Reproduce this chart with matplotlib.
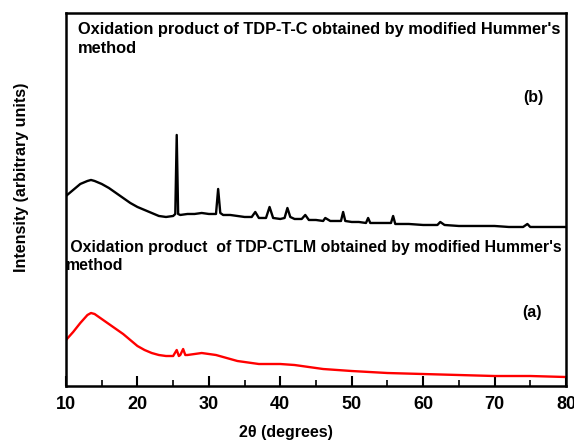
import matplotlib
matplotlib.use("Agg")
import matplotlib.pyplot as plt
from matplotlib.ticker import MultipleLocator

plt.rcParams["font.family"] = ["Liberation Sans", "DejaVu Sans"]
plt.rcParams["font.weight"] = "bold"

# (b) TDP-T-C oxidation product, offset trace
b_theta = [10, 11, 12, 13, 13.5, 14, 15, 16, 17, 18, 19, 20, 21, 22, 23, 24, 25, 25.3, 25.5, 25.7,
           26, 27, 28, 29, 30, 31, 31.3, 31.6, 32, 33, 34, 35, 36, 36.5, 37, 38, 38.5, 39, 40, 40.6,
           41, 41.4, 42, 43, 43.5, 44, 45, 46, 46.3, 47, 48, 48.5, 48.8, 49.1, 50, 51, 52, 52.3, 52.6,
           54, 55.5, 55.8, 56.1, 58, 60, 62, 62.4, 63, 65, 68, 70, 72, 74, 74.6, 75, 77, 80]
b_int = [190, 196, 202, 205, 206, 205, 202, 198, 193, 188, 183, 179, 176, 173, 170, 169, 170, 172, 251, 172,
         171, 172, 172, 173, 172, 172, 197, 173, 171, 171, 170, 169, 169, 174, 168, 168, 179, 168, 167, 168,
         178, 169, 167, 167, 171, 166, 166, 165, 168, 165, 165, 165, 174, 165, 164, 164, 163, 168, 163,
         163, 163, 170, 162, 162, 161, 161, 164, 161, 160, 160, 160, 159, 159, 162, 159, 159, 159]

# (a) TDP-CTLM oxidation product
a_theta = [10, 11, 12, 13, 13.5, 14, 15, 16, 17, 18, 19, 20, 21, 22, 23, 24, 25, 25.5, 25.8, 26,
           26.4, 26.7, 27, 28, 29, 30, 31, 32, 33, 34, 35, 36, 37, 38, 40, 42, 44, 46, 48, 50,
           55, 60, 65, 70, 75, 80]
a_int = [46, 54, 63, 71, 73, 72, 67, 62, 57, 52, 46, 40, 36, 33, 31, 30, 30, 36, 30, 31,
         37, 31, 31, 32, 33, 32, 31, 29, 27, 25, 24, 23, 22, 22, 22, 21, 19, 17, 16, 15,
         13, 12, 11, 10, 10, 9]

x_ticks = [10, 20, 30, 40, 50, 60, 70, 80]

fig = plt.figure(figsize=(5.74, 4.46), dpi=100)
ax = fig.add_axes([0.115, 0.1345, 0.871, 0.8365])

ax.plot(b_theta, b_int, color="black", linewidth=1.7)
ax.plot(a_theta, a_int, color="red", linewidth=1.7)

ax.set_xlim(10, 80)
ax.set_ylim(0, 373)
ax.set_xticks(x_ticks)
ax.xaxis.set_minor_locator(MultipleLocator(5))
ax.set_yticks([])
ax.tick_params(axis="x", which="major", direction="in", length=7, width=1.5,
               labelsize=13, pad=7, top=False)
ax.tick_params(axis="x", which="minor", direction="in", length=4, width=1.2, top=False)
for lbl in ax.get_xticklabels():
    lbl.set_fontweight("bold")
for spine in ax.spines.values():
    spine.set_linewidth(1.8)

ax.set_xlabel("2θ (degrees)", fontsize=11.5, fontweight="bold")
ax.xaxis.set_label_coords(0.44, -0.105)
ax.set_ylabel("Intensity (arbitrary units)", fontsize=11.5, fontweight="bold")
ax.yaxis.set_label_coords(-0.075, 0.56)

ax.text(0.024, 0.975, "Oxidation product of TDP-T-C obtained by modified Hummer's\nmethod",
        transform=ax.transAxes, fontsize=11.8, fontweight="bold", va="top", ha="left",
        linespacing=1.3)
ax.text(0.0, 0.392, " Oxidation product  of TDP-CTLM obtained by modified Hummer's\nmethod",
        transform=ax.transAxes, fontsize=11.4, fontweight="bold", va="top", ha="left",
        linespacing=1.25)
ax.text(0.934, 0.772, "(b)", transform=ax.transAxes, fontsize=11.5, fontweight="bold",
        ha="center", va="center")
ax.text(0.932, 0.198, "(a)", transform=ax.transAxes, fontsize=11.5, fontweight="bold",
        ha="center", va="center")

fig.savefig("out.png", dpi=100)
